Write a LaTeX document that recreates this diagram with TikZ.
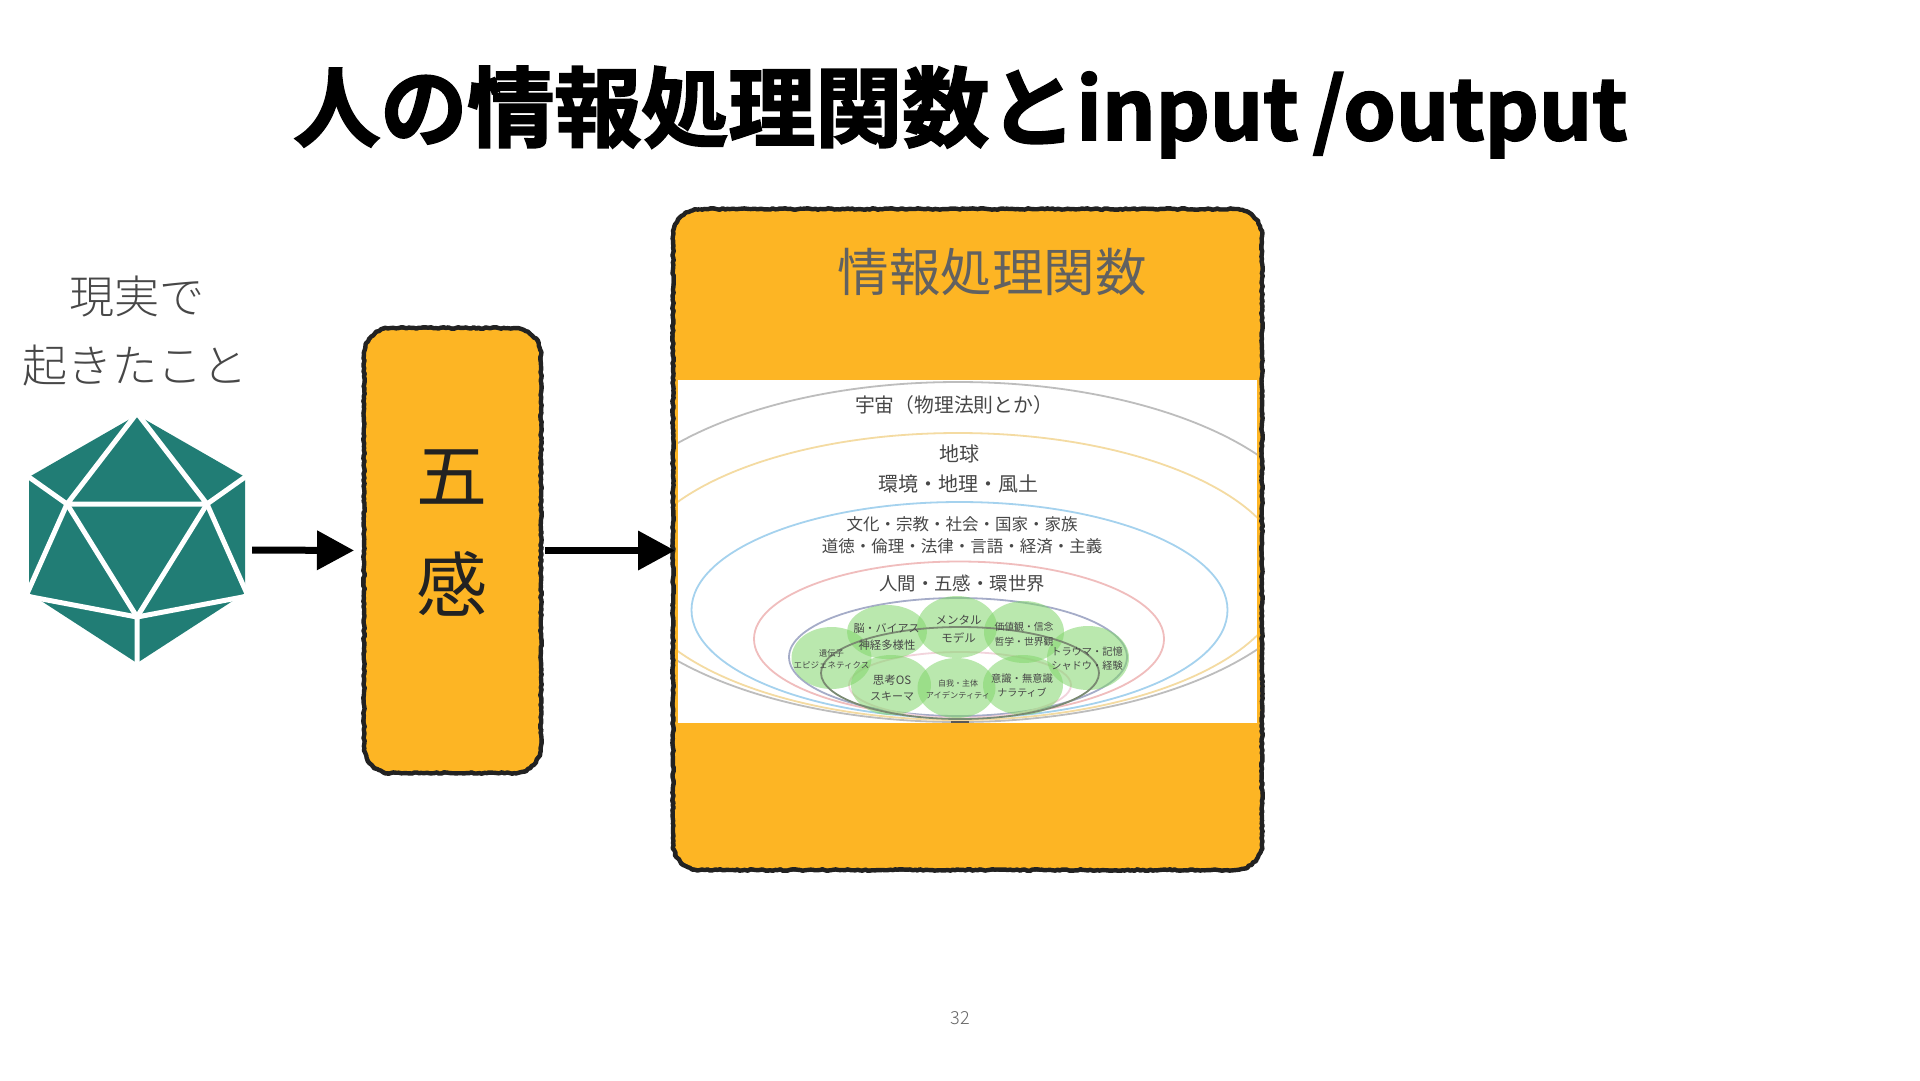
\documentclass[tikz,border=0pt]{standalone}
\usepackage{fontspec}
\usetikzlibrary{decorations.pathmorphing,arrows.meta,calc}
\newfontfamily\jp{Noto Sans CJK JP}
\newfontfamily\jpt[FakeBold=2.2]{Noto Sans CJK JP Bold}
\newfontfamily\jpl{Noto Sans CJK JP Light}
\definecolor{amber}{HTML}{FDB524}
\definecolor{ink}{HTML}{222222}
\definecolor{teal2}{HTML}{217D75}
\definecolor{blob}{HTML}{82D66C}
\definecolor{orbgrey}{HTML}{BDBDBD}
\definecolor{orbyel}{HTML}{F4DBA2}
\definecolor{orbblue}{HTML}{A5D2EE}
\definecolor{orbpink}{HTML}{F0BDBD}
\definecolor{orbslate}{HTML}{A5ACC8}
\definecolor{orbpale}{HTML}{F2D4DC}
\definecolor{orbdark}{HTML}{7A8A72}
\tikzset{
  fs/.style={font=\jp\fontsize{#1}{#1}\selectfont},
  fl/.style={font=\jpl\fontsize{#1}{#1}\selectfont},
  lbl/.style={inner sep=0pt,text=#1},
  lbl/.default={black!72},
  amberbox/.style={draw=ink,fill=amber,line width=3pt,rounded corners=27pt,inner sep=0pt,outer sep=0pt},
  roughline/.style={draw=ink,line width=4.4pt,line join=round,
    decorate,decoration={random steps,segment length=2.5pt,amplitude=0.8pt}},
  orbit/.style={line width=1.8pt,draw=#1},
  blobby/.style={fill=blob,fill opacity=0.55,draw=none},
  facet/.style={draw=white,line width=5pt},
  flow/.style={line width=7pt,-{Triangle[length=37pt,width=38pt]}}
}
% rough hand-drawn outline following a rounded node border
\newcommand{\roughedge}[1]{%
  \draw[roughline]
    ($(#1.north west)+(27,0)$) -- ($(#1.north east)+(-27,0)$)
    .. controls ($(#1.north east)+(-12,0)$) and ($(#1.north east)+(0,12)$) .. ($(#1.north east)+(0,27)$)
    -- ($(#1.south east)+(0,-27)$)
    .. controls ($(#1.south east)+(0,-12)$) and ($(#1.south east)+(-12,0)$) .. ($(#1.south east)+(-27,0)$)
    -- ($(#1.south west)+(27,0)$)
    .. controls ($(#1.south west)+(12,0)$) and ($(#1.south west)+(0,-12)$) .. ($(#1.south west)+(0,-27)$)
    -- ($(#1.north west)+(0,27)$)
    .. controls ($(#1.north west)+(0,12)$) and ($(#1.north west)+(12,0)$) .. ($(#1.north west)+(27,0)$);
}
\begin{document}
\begin{tikzpicture}[x=1pt,y=-1pt]
\useasboundingbox (0,0) rectangle (1920,1080);
\fill[white] (0,0) rectangle (1920,1080);
\pgfmathsetseed{7}
% title
\node[lbl=black,font=\jpt\fontsize{87}{87}\selectfont] (title) at (960.5,112) {人の情報処理関数と{\fontsize{84}{84}\selectfont input\,/output}};
% side labels
\node[lbl,fl=45] (genjitsu) at (137,297) {現実で};
\node[lbl,fl=45] (okita) at (135,366) {起きたこと};
% icosahedron
\node[minimum width=226pt,minimum height=220pt,inner sep=0pt] (ico) at (139,550) {};
\fill[teal2,rounded corners=1.5pt] (137,415)--(245,477)--(245,593)--(137,663)--(29,593)--(29,477)--cycle;
\coordinate (ca) at (137,413); \coordinate (cb) at (248,475); \coordinate (cc) at (248,596);
\coordinate (cd) at (137,666); \coordinate (ce) at (26,596); \coordinate (cf) at (26,475);
\coordinate (il) at (67,504); \coordinate (ir) at (207,504); \coordinate (ib) at (137,617);
\draw[facet,line join=round] (il)--(ca)--(ir)--cycle;
\draw[facet,line join=round] (il)--(ib)--(ir);
\draw[facet] (il)--(cf) (ir)--(cb) (il)--(ce) (ir)--(cc) (ib)--(ce) (ib)--(cc) (ib)--(cd);
% boxes
\node[amberbox,minimum width=177pt,minimum height=445pt] (box1) at (452.5,550.5) {};
\roughedge{box1}
\node[amberbox,minimum width=589pt,minimum height=661pt] (box2) at (967.5,539.5) {};
\roughedge{box2}
\node[lbl=ink,fs=71] (go) at (452,477) {五};
\node[lbl=ink,fs=71] (kan) at (452,584) {感};
\node[lbl=black!62,fs=51.5] (func) at (992,272) {情報処理関数};
% connectors
\draw[flow,shorten <=0pt,shorten >=10pt] (ico.east) -- (box1.west);
\draw[flow,shorten <=4pt,shorten >=-2pt] (box1.east) -- (box1.east -| box2.west);
% inner picture
\fill[white] (678,380) rectangle (1257,723);
\begin{scope}
\clip (678,380) rectangle (1257,723);
\draw[orbit=orbgrey] (958,552) ellipse [x radius=365,y radius=170];
\draw[orbit=orbyel] (958,576.5) ellipse [x radius=328,y radius=143.5];
\draw[orbit=orbblue] (959.5,610) ellipse [x radius=268,y radius=108];
\draw[orbit=orbpink] (959,639) ellipse [x radius=205,y radius=77.5];
\draw[orbit=orbslate] (958,657) ellipse [x radius=169,y radius=59];
\draw[orbit=orbpale] (960,685) ellipse [x radius=111,y radius=33];
\foreach \n/\cx/\cy/\rx/\ry in {b1/831.5/658/40/31,b2/887/632/40/27,b3/957/627/40/31,b4/1024/632/40/31,b5/1088/658/41/32,b6/891/685/40/30,b7/956.5/688/39/30,b8/1023/685/40/30}
  \fill[blobby] (\cx,\cy) ellipse [x radius=\rx,y radius=\ry];
\draw[orbit=orbdark] (960,673) ellipse [x radius=139,y radius=46];
\fill[black!65] (951,721) rectangle (969,723);
\end{scope}
% inner labels
\node[lbl,fs=19.8] (t1) at (954,405) {宇宙（物理法則とか）};
\node[lbl,fs=20] (t2) at (959,454) {地球};
\node[lbl,fs=20] (t3) at (958,484) {環境・地理・風土};
\node[lbl,fs=16.5] (t4) at (962,524) {文化・宗教・社会・国家・家族};
\node[lbl,fs=16.5] (t5) at (962,546) {道徳・倫理・法律・言語・経済・主義};
\node[lbl,fs=18.4] (t6) at (962,583) {人間・五感・環世界};
\node[lbl,fs=8.3] (c1) at (831.5,653) {遺伝子};
\node[lbl,fs=8.5] (c2) at (831.5,665) {エピジェネティクス};
\node[lbl,fs=11] (c3) at (886.5,628) {脳・バイアス};
\node[lbl,fs=11.4] (c4) at (887,645) {神経多様性};
\node[lbl,fs=11.5] (c5) at (958.5,620) {メンタル};
\node[lbl,fs=11.5] (c6) at (958.5,638) {モデル};
\node[lbl,fs=9.8] (c7) at (1024,627) {価値観・信念};
\node[lbl,fs=9.8] (c8) at (1024,642) {哲学・世界観};
\node[lbl,fs=10.2] (c9) at (1087,652) {トラウマ・記憶};
\node[lbl,fs=10.2] (c10) at (1087,666) {シャドウ・経験};
\node[lbl,fs=11.5] (c11) at (892,680) {思考OS};
\node[lbl,fs=11] (c12) at (892,696) {スキーマ};
\node[lbl,fs=8] (c13) at (958,683) {自我・主体};
\node[lbl,fs=8.2] (c14) at (958,695) {アイデンティティ};
\node[lbl,fs=10.3] (c15) at (1022,679) {意識・無意識};
\node[lbl,fs=10] (c16) at (1022,693) {ナラティブ};
\node[lbl=black!60,fl=18] (page) at (960,1018) {32};
\end{tikzpicture}
\end{document}
